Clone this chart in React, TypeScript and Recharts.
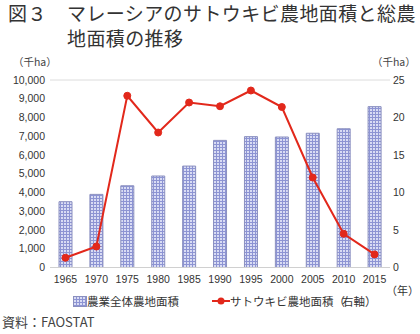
import { ComposedChart, Bar, Line, XAxis, YAxis, CartesianGrid } from 'recharts';

// 年次
const years = ['1965', '1970', '1975', '1980', '1985', '1990', '1995', '2000', '2005', '2010', '2015'];
// 農業全体農地面積 (千ha, 左軸)
const totalArea = [3510, 3900, 4360, 4880, 5410, 6780, 6980, 6960, 7160, 7400, 8580];
// サトウキビ農地面積 (千ha, 右軸)
const caneArea = [1.3, 2.8, 22.9, 18.0, 22.0, 21.5, 23.6, 21.4, 12.0, 4.5, 1.75];

const leftTicks = [0, 1000, 2000, 3000, 4000, 5000, 6000, 7000, 8000, 9000, 10000];
const rightTicks = [0, 5, 10, 15, 20, 25];

const chartData = years.map((y, i) => ({ year: y, total: totalArea[i], cane: caneArea[i] }));

const numFont = '"Liberation Sans", Arial, "Noto Sans CJK JP", sans-serif';
const jpFont = '"Noto Sans CJK JP", "Liberation Sans", sans-serif';
const RED = '#e2281b';

const titleStyle: React.CSSProperties = {
    position: 'absolute',
    fontSize: 19,
    letterSpacing: 0.4,
    lineHeight: '22px',
    height: 22,
    color: '#333',
    whiteSpace: 'nowrap',
};

export default function App() {
    return (
        <div style={{ position: 'relative', width: 420, height: 334, background: '#fff', fontFamily: jpFont, overflow: 'hidden' }}>
            <style>{'body{margin:0}'}</style>

            {/* Title */}
            <div style={{ ...titleStyle, left: 8, top: 2 }}>図３</div>
            <div style={{ ...titleStyle, left: 67, top: 2 }}>マレーシアのサトウキビ農地面積と総農</div>
            <div style={{ ...titleStyle, left: 67, top: 27 }}>地面積の推移</div>

            {/* Units */}
            <div style={{ position: 'absolute', left: 13, top: 54, fontSize: 10.5, lineHeight: '16px', color: '#444' }}>（千ha）</div>
            <div style={{ position: 'absolute', left: 372, top: 54, fontSize: 10.5, lineHeight: '16px', color: '#444' }}>（千ha）</div>

            <div style={{ position: 'absolute', left: 0, top: 0 }}>
                <ComposedChart width={420} height={293} data={chartData} margin={{ top: 80, right: 0, left: 0, bottom: 0 }}>
                    <defs>
                        <pattern id="barGrid" width="3" height="3" patternUnits="userSpaceOnUse">
                            <rect width="3" height="3" fill="#d9dcf4" />
                            <path d="M0 0.5H3M0.5 0V3" stroke="#8d94d3" strokeWidth={1} />
                        </pattern>
                    </defs>
                    <CartesianGrid vertical={false} stroke="#dcdcdc" />
                    <XAxis
                        dataKey="year"
                        height={25.5}
                        axisLine={{ stroke: '#d0d0d0' }}
                        tickLine={false}
                        tick={{ fontSize: 10.5, fill: '#333', fontFamily: numFont }}
                        interval={0}
                    />
                    <YAxis
                        yAxisId="left"
                        width={50}
                        domain={[0, 10000]}
                        ticks={leftTicks}
                        axisLine={false}
                        tickLine={false}
                        tickSize={0}
                        tickMargin={5}
                        tickFormatter={(v: number) => v.toLocaleString('en-US')}
                        tick={{ fontSize: 10.5, fill: '#333', fontFamily: numFont }}
                    />
                    <YAxis
                        yAxisId="right"
                        orientation="right"
                        width={30}
                        domain={[0, 25]}
                        ticks={rightTicks}
                        axisLine={false}
                        tickLine={false}
                        tickSize={0}
                        tickMargin={3}
                        tick={{ fontSize: 10.5, fill: '#333', fontFamily: numFont, textAnchor: 'start' }}
                    />
                    <Bar
                        yAxisId="left"
                        dataKey="total"
                        barSize={13}
                        fill="url(#barGrid)"
                        stroke="#8a8fbf"
                        strokeWidth={1}
                        isAnimationActive={false}
                    />
                    <Line
                        yAxisId="right"
                        dataKey="cane"
                        stroke={RED}
                        strokeWidth={2}
                        dot={{ r: 3.5, fill: RED, stroke: RED, strokeWidth: 1 }}
                        isAnimationActive={false}
                    />
                </ComposedChart>
            </div>

            {/* Year unit */}
            <div style={{ position: 'absolute', left: 386, top: 282, fontSize: 11, lineHeight: '16px', color: '#333' }}>（年）</div>

            {/* Legend */}
            <div style={{ position: 'absolute', left: 0, top: 293, height: 16, width: 420, fontSize: 11.5, color: '#333' }}>
                <svg style={{ position: 'absolute', left: 73, top: 3 }} width={14} height={11}>
                    <defs>
                        <pattern id="legendGrid" width="3" height="3" patternUnits="userSpaceOnUse">
                            <rect width="3" height="3" fill="#d9dcf4" />
                            <path d="M0 0.5H3M0.5 0V3" stroke="#8d94d3" strokeWidth={1} />
                        </pattern>
                    </defs>
                    <rect x={0.5} y={0.5} width={13} height={10} fill="url(#legendGrid)" stroke="#8a8fbf" />
                </svg>
                <div style={{ position: 'absolute', left: 87, top: 0, lineHeight: '16px', whiteSpace: 'nowrap' }}>農業全体農地面積</div>
                <svg style={{ position: 'absolute', left: 212, top: 2 }} width={18} height={12}>
                    <line x1={0} y1={6} x2={18} y2={6} stroke={RED} strokeWidth={2} />
                    <circle cx={9} cy={6} r={3.5} fill={RED} />
                </svg>
                <div style={{ position: 'absolute', left: 230, top: 0, lineHeight: '16px', whiteSpace: 'nowrap' }}>サトウキビ農地面積<span style={{ letterSpacing: -3 }}>（</span>右軸）</div>
            </div>

            {/* Source */}
            <div style={{ position: 'absolute', left: 2, top: 313, fontSize: 13, lineHeight: '18px', color: '#444', whiteSpace: 'nowrap' }}>資料：FAOSTAT</div>
        </div>
    );
}
